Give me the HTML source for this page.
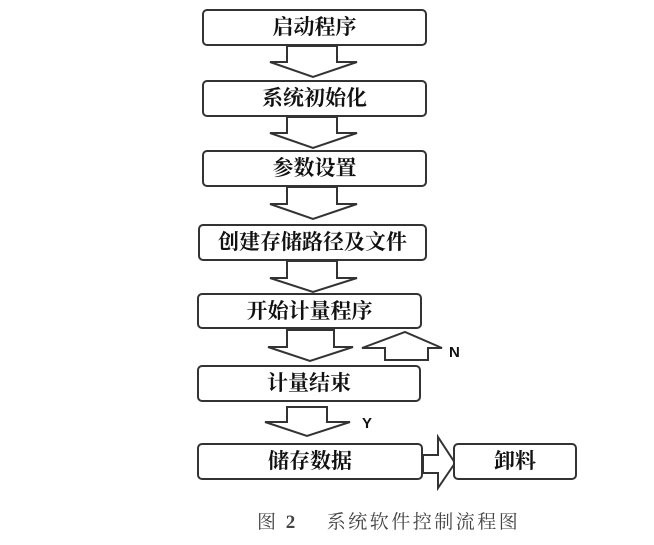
<!DOCTYPE html>
<html><head><meta charset="utf-8"><style>
body{margin:0;background:#fff;width:654px;height:545px;overflow:hidden;position:relative}
.b{position:absolute;box-sizing:border-box;border:2px solid #333;border-radius:5px;background:#fff;font-family:"Liberation Serif","Noto Serif CJK SC",serif;font-weight:bold;font-size:21px;color:#111;text-align:center;display:flex;align-items:center;justify-content:center;line-height:1}
svg{position:absolute;left:0;top:0}
.cap{position:absolute;left:257px;top:507px;font-family:"Liberation Serif","Noto Serif CJK SC",serif;font-size:19px;color:#444;white-space:nowrap;letter-spacing:2.5px}
</style></head><body>
<svg width="654" height="545">
<g fill="#fff" stroke="#333" stroke-width="2" stroke-linejoin="miter">
<polygon points="287,46 337,46 337,62 357,62 313,77 270,62 287,62"/>
<polygon points="287,117 337,117 337,133 357,133 313,148 270,133 287,133"/>
<polygon points="287,187 337,187 337,204 357,204 313,219 270,204 287,204"/>
<polygon points="287,261 337,261 337,278 357,278 313,292 270,278 287,278"/>
<polygon points="287,330 334,330 334,347 353,347 310,361 268,347 287,347"/>
<polygon points="385,360 428,360 428,348 442,348 405,332 362,348 385,348"/>
<polygon points="287,407 327,407 327,422 350,422 307,436 265,422 287,422"/>
<polygon points="423,455 438,455 438,437 455,463 438,488 438,473 423,473"/>
</g>
<text x="449" y="357" font-family="Liberation Sans,sans-serif" font-weight="bold" font-size="15" fill="#111">N</text>
<text x="362" y="428" font-family="Liberation Sans,sans-serif" font-weight="bold" font-size="15" fill="#111">Y</text>
</svg>
<div class="b" style="left:202px;top:9px;width:225px;height:37px">启动程序</div>
<div class="b" style="left:202px;top:80px;width:225px;height:37px">系统初始化</div>
<div class="b" style="left:202px;top:150px;width:225px;height:37px">参数设置</div>
<div class="b" style="left:198px;top:224px;width:229px;height:37px">创建存储路径及文件</div>
<div class="b" style="left:197px;top:293px;width:225px;height:36px">开始计量程序</div>
<div class="b" style="left:197px;top:365px;width:224px;height:37px">计量结束</div>
<div class="b" style="left:197px;top:443px;width:226px;height:37px">储存数据</div>
<div class="b" style="left:453px;top:443px;width:124px;height:37px">卸料</div>
<div class="cap">图 <b>2</b>&nbsp;&nbsp;&nbsp; 系统软件控制流程图</div>
</body></html>
